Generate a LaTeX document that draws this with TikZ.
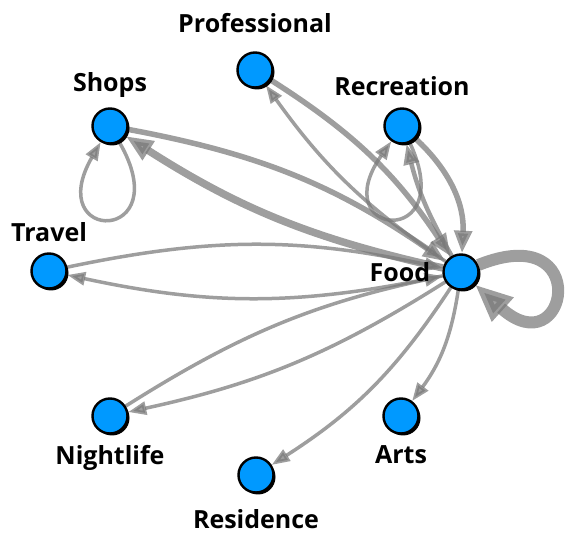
\documentclass[tikz,border=0pt]{standalone}
\usepackage{fontspec}
\setmainfont{Open Sans}
\usetikzlibrary{positioning,arrows.meta,shadows,backgrounds}
\definecolor{nodeblue}{RGB}{0,153,255}
\definecolor{edgegray}{RGB}{120,120,120}
\begin{document}
\begin{tikzpicture}[x=1pt,y=1pt,
  vert/.style={circle,draw=black,line width=2.4pt,fill=nodeblue,minimum size=35pt,inner sep=0pt,
    drop shadow={shadow xshift=2pt,shadow yshift=-2pt,fill=black,opacity=1}},
  lab/.style={font=\bfseries\fontsize{25}{25}\selectfont,inner sep=0pt},
  lnk/.style={draw=edgegray,opacity=.72,line width=#1,
    -{Triangle[length=10pt 2.3,width=6pt 2]}}]
\useasboundingbox (0,0) rectangle (582,547);
\node[vert] (prof) at (255,477) {};
\node[vert] (shops) at (110,421) {};
\node[vert] (recr) at (402,421) {};
\node[vert] (travel) at (49,276) {};
\node[vert] (food) at (461,275) {};
\node[vert] (night) at (110,131) {};
\node[vert] (resid) at (256,72) {};
\node[vert] (arts) at (401,131) {};
\node[lab,above=18pt of prof] (prof-l) {Professional};
\node[lab,above=10pt of shops] (shops-l) {Shops};
\node[lab,above=11pt of recr] (recr-l) {Recreation};
\node[lab,above=10pt of travel] (travel-l) {Travel};
\node[lab,left=12pt of food] (food-l) {Food};
\node[lab,below=10pt of night] (night-l) {Nightlife};
\node[lab,below=16pt of resid] (resid-l) {Residence};
\node[lab,below=11pt of arts] (arts-l) {Arts};
\begin{scope}[on background layer]
\draw[lnk=5.5pt] (shops) to[bend left=12] (food);
\draw[lnk=7.5pt] (food) to[bend left=10] (shops);
\draw[lnk=3.5pt] (shops) to[out=-60,in=-120,distance=118pt] (shops);
\draw[lnk=5.5pt] (prof) to[bend left=12] (food);
\draw[lnk=3.5pt] (food) to[bend left=10] (prof);
\draw[lnk=5.5pt] (recr) to[bend left=25] (food);
\draw[lnk=4.5pt] (food) to[bend left=8] (recr);
\draw[lnk=3.5pt] (recr) to[out=-65,in=-125,distance=118pt] (recr);
\draw[lnk=3.5pt] (travel) to[bend left=12] (food);
\draw[lnk=3.5pt] (food) to[bend left=12] (travel);
\draw[lnk=3.5pt] (night) to[bend left=10] (food);
\draw[lnk=3.5pt] (food) to[bend left=10] (night);
\draw[lnk=3.5pt] (food) to[bend left=12] (resid);
\draw[lnk=3.5pt] (food) to[bend left=14] (arts);
\draw[lnk=12pt] (food) to[out=22,in=-42,distance=125pt] (food);
\end{scope}
\end{tikzpicture}
\end{document}
